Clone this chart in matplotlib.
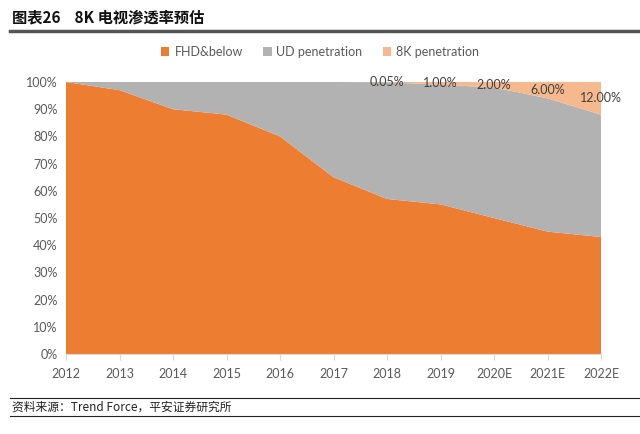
import matplotlib
matplotlib.use("Agg")
import matplotlib.pyplot as plt
import numpy as np

years = ["2012", "2013", "2014", "2015", "2016", "2017", "2018", "2019", "2020E", "2021E", "2022E"]
fhd = [100, 97, 90, 88, 80, 65, 57, 55, 50, 45, 43]
k8 = [0, 0, 0, 0, 0, 0, 0.05, 1, 2, 6, 12]
ud = [100 - a - b for a, b in zip(fhd, k8)]
k8_labels = ["", "", "", "", "", "", "0.05%", "1.00%", "2.00%", "6.00%", "12.00%"]
yticks = [0, 10, 20, 30, 40, 50, 60, 70, 80, 90, 100]

plt.rcParams['font.family'] = ['Lato', 'Noto Sans CJK SC', 'DejaVu Sans']

fig = plt.figure(figsize=(6.4, 4.34), dpi=100)
ax = fig.add_axes([66/640, 1-354/434, (601-66)/640, (354-82)/434])

x = np.arange(len(years))
c_fhd = "#ED7D31"
c_ud = "#B2B2B2"
c_8k = "#F6B98E"
ax.stackplot(x, fhd, ud, k8, colors=[c_fhd, c_ud, c_8k],
             labels=["FHD&below", "UD penetration", "8K penetration"], linewidth=0)

top = np.array(fhd) + np.array(ud)
for i, lab in enumerate(k8_labels):
    if lab:
        ax.text(x[i], top[i] + k8[i] / 2, lab, ha="center", va="center",
                fontsize=9, color="#404040")

ax.set_xlim(0, len(years) - 1)
ax.set_ylim(0, 100)
ax.set_xticks(x)
ax.set_xticklabels(years, fontsize=9, color="#595959")
ax.set_yticks(yticks)
ax.set_yticklabels([f"{v}%" for v in yticks], fontsize=9, color="#595959")
for s in ["top", "right", "left"]:
    ax.spines[s].set_visible(False)
ax.spines["bottom"].set_color("#D9D9D9")
ax.tick_params(axis="y", length=0, pad=6)
ax.tick_params(axis="x", length=4, color="#D9D9D9", direction="out", pad=6)

leg = fig.legend(loc="center", bbox_to_anchor=(0.5, 1-52/434), ncol=3, frameon=False,
                 fontsize=9, handlelength=0.7, handleheight=0.7, columnspacing=1.6,
                 handletextpad=0.4)
for t in leg.get_texts():
    t.set_color("#595959")

# title
fig.text(12/640, 1-17/434, "图表26    8K 电视渗透率预估", fontsize=11, fontweight="bold",
         family=["Noto Sans CJK SC", "DejaVu Sans"], va="center", ha="left", color="#111111")
fig.add_artist(plt.Line2D([10/640, 1.0], [1-31/434, 1-31/434], color="#555555", linewidth=2.5))

# source
fig.add_artist(plt.Line2D([10/640, 1.0], [1-398/434, 1-398/434], color="#222222", linewidth=0.8))
fig.add_artist(plt.Line2D([10/640, 1.0], [1-416/434, 1-416/434], color="#222222", linewidth=0.8))
fig.text(12/640, 1-407/434, "资料来源：Trend Force，平安证券研究所", fontsize=8.5, style="italic",
         family=["Noto Sans CJK SC", "DejaVu Sans"], va="center", ha="left", color="#222222")

fig.savefig("out.png", dpi=100)
